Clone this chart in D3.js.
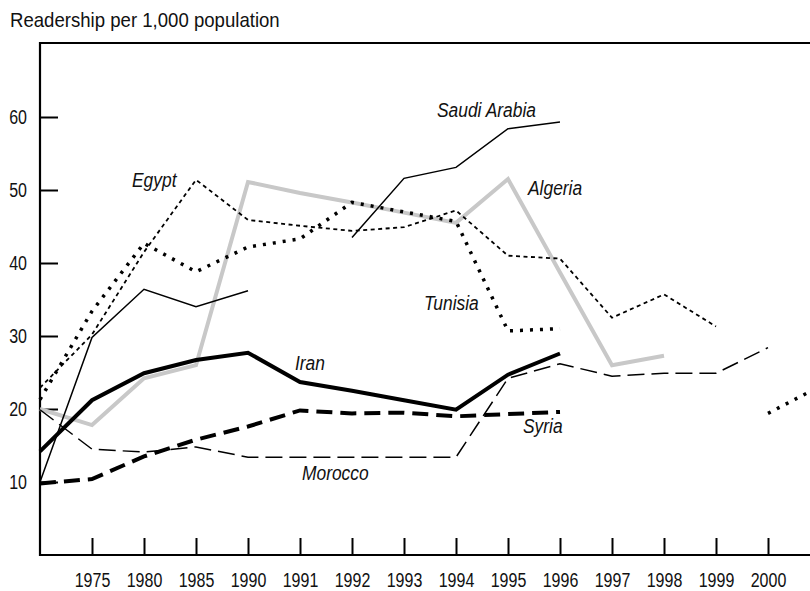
<!DOCTYPE html>
<html>
<head>
<meta charset="utf-8">
<script src="https://cdn.jsdelivr.net/npm/d3@7"></script>
<style>
  html, body { margin: 0; padding: 0; background: #fff; }
  svg { display: block; }
  text { font-family: "Liberation Sans", Arial, sans-serif; fill: #111; }
</style>
</head>
<body>
<svg id="chart" width="810" height="591"></svg>
<script>
// ---- data ----
const years = ["1970","1975","1980","1985","1990","1991","1992","1993","1994","1995","1996","1997","1998","1999","2000","2001"];
const tickYears = ["1975","1980","1985","1990","1991","1992","1993","1994","1995","1996","1997","1998","1999","2000"];
const yTicks = [10, 20, 30, 40, 50, 60];

const saudiArabia = [10.0, 29.8, 36.4, 34.0, 36.2, null, 43.5, 51.6, 53.1, 58.4, 59.3, null, null, null, null, null];
const egypt       = [22.9, 30.2, 41.5, 51.4, 45.9, 45.1, 44.4, 44.9, 47.2, 41.0, 40.6, 32.5, 35.7, 31.3, null, null];
const algeria     = [20.0, 17.8, 24.2, 26.0, 51.1, 49.6, 48.3, 46.9, 45.5, 51.5, 38.7, 26.0, 27.3, null, null, null];
const tunisia     = [21.3, 33.4, 42.7, 38.8, 42.2, 43.3, 48.3, 47.0, 45.7, 30.7, 31.0, null, null, null, 19.4, 23.1];
const iran        = [14.2, 21.2, 24.9, 26.7, 27.7, 23.7, 22.5, 21.2, 19.9, 24.7, 27.6, null, null, null, null, null];
const syria       = [9.8, 10.4, 13.5, 15.8, 17.6, 19.8, 19.4, 19.5, 19.0, 19.3, 19.6, null, null, null, null, null];
const morocco     = [19.9, 14.5, 14.1, 14.8, 13.4, 13.4, 13.4, 13.4, 13.4, 24.2, 26.2, 24.5, 24.9, 24.9, 28.4, null];

// ---- layout / styles ----
const series = [
  { name: "Algeria",      values: algeria,     stroke: "#c8c8c8", width: 4,   dash: null },
  { name: "Morocco",      values: morocco,     stroke: "#000",    width: 1.5, dash: "17,7" },
  { name: "Egypt",        values: egypt,       stroke: "#000",    width: 1.8, dash: "4,3.5" },
  { name: "Saudi Arabia", values: saudiArabia, stroke: "#000",    width: 1.5, dash: null },
  { name: "Tunisia",      values: tunisia,     stroke: "#000",    width: 3.5, dash: "3,7" },
  { name: "Syria",        values: syria,       stroke: "#000",    width: 4,   dash: "16,8" },
  { name: "Iran",         values: iran,        stroke: "#000",    width: 4,   dash: null }
];
const labelPos = {
  "Saudi Arabia": [437, 116.5],
  "Egypt":        [132, 187],
  "Algeria":      [528, 195],
  "Tunisia":      [424, 310],
  "Iran":         [295, 369.5],
  "Syria":        [523, 433],
  "Morocco":      [302, 479.5]
};
const FS = 20;          // font size
const SX_NUM = 0.8;     // condensed scale for numerals
const SX_TITLE = 0.93;
const SX_LABEL = 0.87;

const svg = d3.select("#chart");
const mLeft = 40, mBottom = 555, mTop = 43, mRight = 810;

const x = d3.scalePoint().domain(years).range([mLeft, mLeft + 52 * (years.length - 1)]);
const y = d3.scaleLinear().domain([0, 70]).range([mBottom, 555 - 511]);

// title
svg.append("text")
  .attr("transform", `translate(10,27) scale(${SX_TITLE},1)`)
  .attr("font-size", FS)
  .text("Readership per 1,000 population");

// axes
const yAxis = d3.axisLeft(y).tickValues(yTicks).tickSizeInner(-18).tickSizeOuter(0).tickPadding(13).tickFormat(d3.format("d"));
const gy = svg.append("g").attr("transform", `translate(${mLeft},0)`).call(yAxis);
gy.select(".domain").remove();
gy.selectAll("line").attr("stroke", "#000").attr("stroke-width", 2);
gy.selectAll("text")
  .attr("font-size", FS).attr("font-family", null).attr("fill", "#111")
  .attr("x", -13 / SX_NUM)
  .attr("transform", `scale(${SX_NUM},1)`);

const xAxis = d3.axisBottom(x).tickValues(tickYears).tickSizeInner(-17).tickSizeOuter(0).tickPadding(18);
const gx = svg.append("g").attr("transform", `translate(0,${mBottom})`).call(xAxis);
gx.select(".domain").remove();
gx.selectAll("line").attr("stroke", "#000").attr("stroke-width", 2);
gx.selectAll("text")
  .attr("font-size", FS).attr("font-family", null).attr("fill", "#111")
  .attr("transform", `scale(${SX_NUM},1)`);

// frame
svg.append("path")
  .attr("d", `M${mRight},${mTop}H${mLeft}V${mBottom}H${mRight}`)
  .attr("fill", "none").attr("stroke", "#000").attr("stroke-width", 2.2);

// lines
const line = d3.line()
  .defined(d => d.v !== null)
  .x(d => x(d.year))
  .y(d => y(d.v));

series.forEach(s => {
  const pts = years.map((yr, i) => ({ year: yr, v: s.values[i] }));
  svg.append("path")
    .datum(pts)
    .attr("d", line)
    .attr("fill", "none")
    .attr("stroke", s.stroke)
    .attr("stroke-width", s.width)
    .attr("stroke-dasharray", s.dash)
    .attr("stroke-linejoin", "miter");
});

// labels
series.forEach(s => {
  const p = labelPos[s.name];
  svg.append("text")
    .attr("transform", `translate(${p[0]},${p[1]}) scale(${SX_LABEL},1)`)
    .attr("font-size", FS)
    .attr("font-style", "italic")
    .text(s.name);
});
</script>
</body>
</html>
